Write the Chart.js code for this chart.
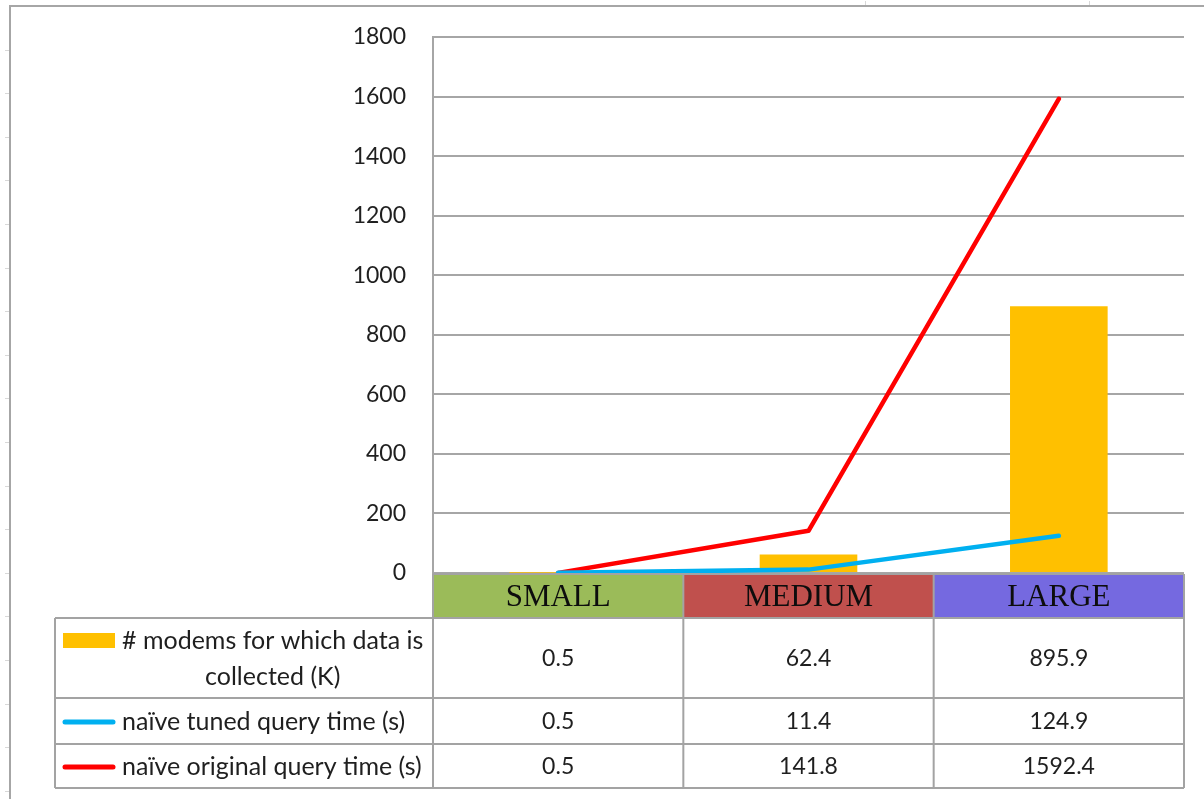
<!DOCTYPE html>
<html>
<head>
<meta charset="utf-8">
<title>Query time vs. collected modems</title>
<script src="https://cdn.jsdelivr.net/npm/chart.js@4"></script>
<style>
  html, body { margin: 0; padding: 0; background: #fff; }
  #chart { display: block; }
</style>
</head>
<body>
<canvas id="chart" width="1204" height="799"></canvas>
<script>
// Data set sizes and measurements
const categories = ['SMALL', 'MEDIUM', 'LARGE'];
const modemsCollected = [0.5, 62.4, 895.9];
const tunedQueryTime = [0.5, 11.4, 124.9];
const originalQueryTime = [0.5, 141.8, 1592.4];

const seriesNames = [
  '# modems for which data is collected (K)',
  'naïve tuned query time (s)',
  'naïve original query time (s)'
];
const categoryColors = ['#9BBB59', '#C0504D', '#7569E0'];
const seriesColors = ['#FFC000', '#00B0F0', '#FF0000'];

const yMin = 0;
const yMax = 1800;
const yStep = 200;

const nameFont = '25px Lato';
const valueFont = '23px Lato';
const headerFont = '31px "Liberation Serif"';
const rule = '#a3a3a3';

// Sheet frame behind the chart
const framePlugin = {
  id: 'frame',
  beforeDraw(chart) {
    const ctx = chart.ctx;
    ctx.save();
    ctx.fillStyle = '#fff';
    ctx.fillRect(0, 0, chart.width, chart.height);
    ctx.strokeStyle = '#d8d8d8';
    ctx.lineWidth = 1;
    for (let y = 49.5; y < chart.height; y += 43.6) {
      ctx.beginPath();
      ctx.moveTo(5, Math.round(y) + 0.5);
      ctx.lineTo(9, Math.round(y) + 0.5);
      ctx.stroke();
    }
    [865, 1089].forEach(x => {
      ctx.beginPath();
      ctx.moveTo(x + 0.5, 1);
      ctx.lineTo(x + 0.5, 5);
      ctx.stroke();
    });
    ctx.strokeStyle = '#a6a6a6';
    ctx.lineWidth = 2;
    ctx.beginPath();
    ctx.moveTo(10, chart.height);
    ctx.lineTo(10, 6);
    ctx.lineTo(chart.width, 6);
    ctx.stroke();
    ctx.restore();
  }
};

function wrapText(ctx, text, maxWidth) {
  const words = text.split(' ');
  const lines = [];
  let line = '';
  words.forEach(w => {
    const trial = line ? line + ' ' + w : w;
    if (ctx.measureText(trial).width > maxWidth && line) {
      lines.push(line);
      line = w;
    } else {
      line = trial;
    }
  });
  if (line) lines.push(line);
  return lines;
}

// Data table under the plot, aligned with the category scale
const dataTablePlugin = {
  id: 'dataTable',
  afterDraw(chart) {
    const ctx = chart.ctx;
    const area = chart.chartArea;
    const xs = chart.scales.x;
    const half = (xs.getPixelForValue(1) - xs.getPixelForValue(0)) / 2;
    const centers = categories.map((_, i) => xs.getPixelForValue(i));
    const edges = [area.left].concat(centers.map(c => c + half));
    edges[edges.length - 1] = area.right;

    const tableLeft = 55;
    const headerTop = area.bottom + 1;
    const rowHeights = [44, 80, 46, 44];
    const rowTops = [headerTop];
    rowHeights.forEach(h => rowTops.push(rowTops[rowTops.length - 1] + h));
    const bottom = rowTops[rowTops.length - 1];

    ctx.save();

    // Category header cells
    categories.forEach((c, i) => {
      ctx.fillStyle = categoryColors[i];
      ctx.fillRect(edges[i], rowTops[0], edges[i + 1] - edges[i], rowHeights[0]);
    });
    ctx.fillStyle = '#0d0d0d';
    ctx.font = headerFont;
    ctx.textAlign = 'center';
    ctx.textBaseline = 'middle';
    categories.forEach((c, i) => {
      ctx.fillText(c, centers[i], rowTops[0] + rowHeights[0] / 2 + 2);
    });

    // Grid of the table
    ctx.strokeStyle = rule;
    ctx.lineWidth = 2;
    ctx.beginPath();
    ctx.moveTo(area.left, rowTops[0]);
    ctx.lineTo(area.right, rowTops[0]);
    for (let r = 1; r < rowTops.length; r++) {
      ctx.moveTo(tableLeft, rowTops[r]);
      ctx.lineTo(area.right, rowTops[r]);
    }
    ctx.moveTo(tableLeft, rowTops[1]);
    ctx.lineTo(tableLeft, bottom);
    edges.forEach(x => {
      ctx.moveTo(x, rowTops[0]);
      ctx.lineTo(x, bottom);
    });
    ctx.stroke();

    // Series rows: key, name, values
    const series = [modemsCollected, tunedQueryTime, originalQueryTime];
    const keyLeft = 63;
    const keyWidth = 52;
    const textLeft = 122;
    series.forEach((vals, s) => {
      const top = rowTops[s + 1];
      const h = rowHeights[s + 1];
      ctx.font = nameFont;
      const lines = wrapText(ctx, seriesNames[s], edges[0] - 4 - textLeft);
      const lineH = 36;
      const firstY = top + h / 2 - (lines.length - 1) * lineH / 2 + 1;

      // key
      if (s === 0) {
        ctx.fillStyle = seriesColors[s];
        ctx.fillRect(keyLeft, firstY - 8, keyWidth, 15);
      } else {
        ctx.strokeStyle = seriesColors[s];
        ctx.lineWidth = 5;
        ctx.lineCap = 'round';
        ctx.beginPath();
        ctx.moveTo(keyLeft + 2, firstY);
        ctx.lineTo(keyLeft + keyWidth - 2, firstY);
        ctx.stroke();
      }

      // name
      ctx.fillStyle = '#1f1f1f';
      ctx.textBaseline = 'middle';
      const blockW = ctx.measureText(lines[0]).width;
      lines.forEach((ln, k) => {
        if (k === 0) {
          ctx.textAlign = 'left';
          ctx.fillText(ln, textLeft, firstY);
        } else {
          ctx.textAlign = 'center';
          ctx.fillText(ln, textLeft + blockW / 2, firstY + k * lineH);
        }
      });

      // values
      ctx.font = valueFont;
      ctx.textAlign = 'center';
      vals.forEach((v, i) => {
        ctx.fillText(String(v), centers[i], top + h / 2 + 1);
      });
    });

    ctx.restore();
  }
};

new Chart(document.getElementById('chart'), {
  type: 'bar',
  data: {
    labels: categories,
    datasets: [
      {
        type: 'line',
        label: seriesNames[1],
        data: tunedQueryTime,
        borderColor: seriesColors[1],
        backgroundColor: seriesColors[1],
        borderWidth: 4.5,
        pointRadius: 0,
        tension: 0,
        borderCapStyle: 'round',
        borderJoinStyle: 'round',
        order: 0
      },
      {
        type: 'line',
        label: seriesNames[2],
        data: originalQueryTime,
        borderColor: seriesColors[2],
        backgroundColor: seriesColors[2],
        borderWidth: 4.5,
        pointRadius: 0,
        tension: 0,
        borderCapStyle: 'round',
        borderJoinStyle: 'round',
        order: 1
      },
      {
        type: 'bar',
        label: seriesNames[0],
        data: modemsCollected,
        backgroundColor: seriesColors[0],
        borderWidth: 0,
        barPercentage: 0.39,
        categoryPercentage: 1,
        order: 2
      }
    ]
  },
  options: {
    responsive: false,
    devicePixelRatio: 1,
    animation: false,
    layout: { padding: { top: 37, right: 20, bottom: 226, left: 0 } },
    plugins: {
      legend: { display: false },
      tooltip: { enabled: false },
      title: { display: false }
    },
    scales: {
      x: { display: false, offset: true },
      y: {
        min: yMin,
        max: yMax,
        afterFit(scale) {
          // fixed axis gutter; the outer layout padding already leaves room for the end labels
          scale.width = 433;
          scale.paddingTop = 0;
          scale.paddingBottom = 0;
        },
        ticks: {
          stepSize: yStep,
          padding: 27,
          color: '#1f1f1f',
          font: { family: 'Lato', size: 23 },
          callback: v => String(v)
        },
        grid: { color: '#a6a6a6', lineWidth: 2, drawTicks: false },
        border: { display: true, color: '#a6a6a6', width: 2 }
      }
    }
  },
  plugins: [framePlugin, dataTablePlugin]
});
</script>
</body>
</html>
